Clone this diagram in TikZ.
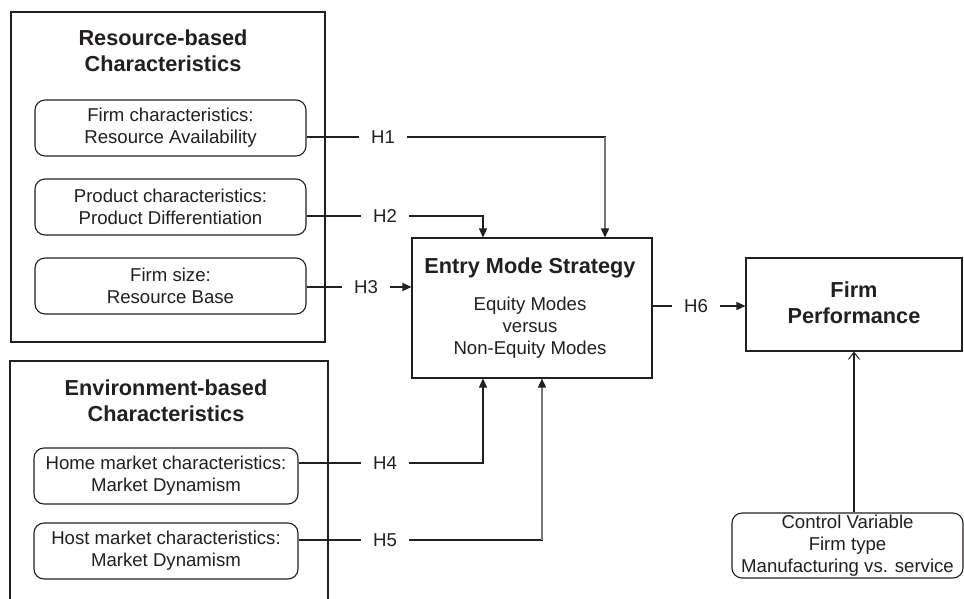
\documentclass[tikz,border=0pt]{standalone}
\usepackage{fontspec}
\setmainfont{Liberation Sans}
\usetikzlibrary{arrows.meta}
\definecolor{ink}{HTML}{231F20}
\definecolor{gline}{HTML}{777777}
\begin{document}
\begin{tikzpicture}[x=1pt,y=-1pt,
  every node/.style={text=ink},
  frame/.style={draw=ink, line width=1.1pt, inner sep=0pt},
  item/.style={draw=ink, line width=1.1pt, rounded corners=10pt, inner sep=0pt, align=center, font=\fontsize{18.6}{22}\selectfont},
  ttl/.style={align=center, font=\bfseries\fontsize{21.7}{26}\selectfont, inner sep=0pt},
  txt/.style={align=center, font=\fontsize{18.6}{22}\selectfont, inner sep=0pt},
  hlab/.style={font=\fontsize{18.6}{22}\selectfont, inner xsep=12pt, inner ysep=0pt},
  thk/.style={draw=ink, line width=1.8pt},
  thn/.style={draw=ink, line width=1.2pt},
  gry/.style={draw=gline, line width=1.6pt},
  tip/.style={-{Triangle[length=9pt,width=8pt,color=ink]}},
  otip/.style={-{Straight Barb[length=7pt,width=11pt,line width=1pt]}},
]
\clip (0,0) rectangle (964,598);
\fill[white] (0,0) rectangle (964,598);

% group frames
\node[frame, minimum width=314pt, minimum height=330pt] (rsbox) at (168,177) {};
\node[ttl] (rstitle) at (163,51) {Resource-based\\Characteristics};
\node[frame, minimum width=318pt, minimum height=258pt] (envbox) at (169,490) {};
\node[ttl] (envtitle) at (166,401) {Environment-based\\Characteristics};

% items
\node[item, minimum width=271pt, minimum height=56pt] (b1) at (170.5,128) {Firm characteristics:\\Resource Availability};
\node[item, minimum width=271pt, minimum height=56pt] (b2) at (170.5,207) {Product characteristics:\\Product Differentiation};
\node[item, minimum width=271pt, minimum height=56pt] (b3) at (170.5,286) {Firm size:\\Resource Base};
\node[item, minimum width=264pt, minimum height=56pt] (b4) at (166,476) {Home market characteristics:\\Market Dynamism};
\node[item, minimum width=264pt, minimum height=56pt] (b5) at (166,551) {Host market characteristics:\\Market Dynamism};

% entry mode
\node[frame, minimum width=240pt, minimum height=140pt] (entry) at (532,308) {};
\node[ttl] (entrytitle) at (530,268) {Entry Mode Strategy};
\node[txt] (entrysub) at (530,328) {Equity Modes\\versus\\Non-Equity Modes};

% firm performance
\node[frame, minimum width=216pt, minimum height=93pt] (fp) at (854,304.5) {};
\node[ttl] (fptitle) at (854,302.5) {Firm\\Performance};

% control variable
\node[item, minimum width=231pt, minimum height=65pt] (ctrl) at (847.5,545.5) {Control Variable\\Firm type\\Manufacturing vs. service};

% labels
\node[hlab] (h1) at (383,137) {H1};
\node[hlab] (h2) at (385,216) {H2};
\node[hlab] (h3) at (366,287) {H3};
\node[hlab] (h4) at (385,463) {H4};
\node[hlab] (h5) at (385,540) {H5};
\node[hlab] (h6) at (696,306) {H6};

\coordinate (c1) at (605,137);
\coordinate (c2) at (483,216);
\coordinate (c4) at (483,463);
\coordinate (c5) at (542,540);

% H1
\draw[thk] ([yshift=-9pt]b1.east) -- (h1.west);
\draw[thk] (h1.east) -- ([xshift=0.8pt]c1);
\draw[gry,tip] (c1) -- (c1 |- entry.north);
% H2
\draw[thk] ([yshift=-9pt]b2.east) -- (h2.west);
\draw[thk] (h2.east) -- ([xshift=0.6pt]c2);
\draw[thn,tip] (c2) -- (c2 |- entry.north);
% H3
\draw[thn] ([yshift=-1pt]b3.east) -- (h3.west);
\draw[thn,tip] (h3.east) -- (h3.east -| entry.west);
% H4
\draw[thk] ([yshift=13pt]b4.east) -- (h4.west);
\draw[thk] (h4.east) -- ([xshift=0.6pt]c4);
\draw[thn,tip] (c4) -- (c4 |- entry.south);
% H5
\draw[thk] ([yshift=11pt]b5.east) -- (h5.west);
\draw[thk] (h5.east) -- ([xshift=0.8pt]c5);
\draw[gry,tip] (c5) -- (c5 |- entry.south);
% H6
\draw[thn] ([yshift=2pt]entry.east) -- (h6.west);
\draw[thn,tip] (h6.east) -- (h6.east -| fp.west);
% control
\draw[thn,otip] (fp.south |- ctrl.north) -- (fp.south);
\end{tikzpicture}
\end{document}
